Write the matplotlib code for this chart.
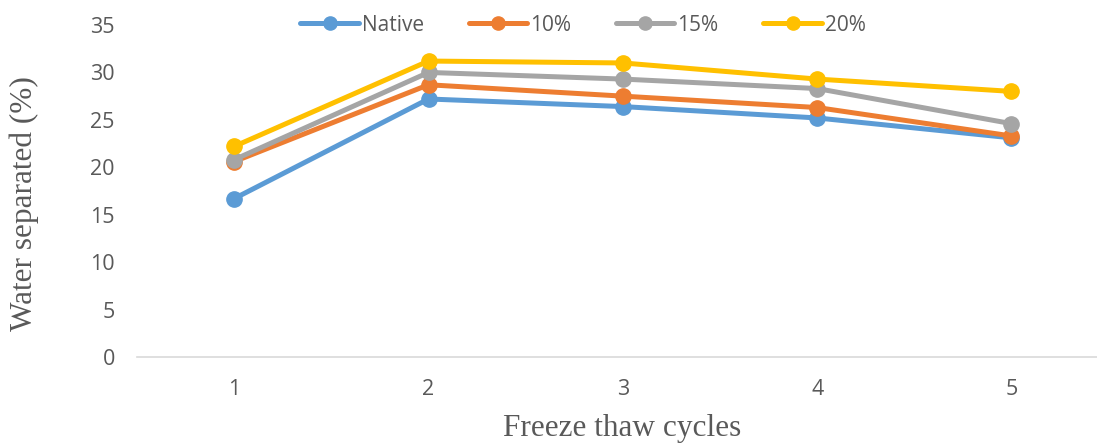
import matplotlib
matplotlib.use("Agg")
import matplotlib.pyplot as plt

# freeze-thaw stability: water separated after each cycle
cycles = [1, 2, 3, 4, 5]
native = [16.7, 27.2, 26.4, 25.2, 23.1]
pct10 = [20.6, 28.7, 27.5, 26.3, 23.3]
pct15 = [20.8, 30.0, 29.3, 28.3, 24.6]
pct20 = [22.2, 31.2, 31.0, 29.3, 28.0]

series = [("Native", native, "#5B9BD5"), ("10%", pct10, "#ED7D31"),
          ("15%", pct15, "#A5A5A5"), ("20%", pct20, "#FFC000")]

fig = plt.figure(figsize=(10.97, 4.45), dpi=100)
ax = fig.add_axes([0.1249, 0.1978, 0.8751, 0.746])

for nome, vals, cor in series:
    ax.plot(cycles, vals, color=cor, linewidth=3.6, marker="o",
            markersize=11, label=nome, solid_capstyle="round")

ax.set_xlim(0.5, 5.44)
ax.set_ylim(0, 35)
ax.set_yticks(range(0, 36, 5))
ax.set_xticks(cycles)

for s in ["top", "right", "left"]:
    ax.spines[s].set_visible(False)
ax.spines["bottom"].set_color("#D9D9D9")
ax.spines["bottom"].set_linewidth(1.2)
ax.tick_params(axis="both", length=0, labelsize=15.5, colors="#595959")
ax.tick_params(axis="y", pad=16)
ax.tick_params(axis="x", pad=16)
for t in ax.get_xticklabels() + ax.get_yticklabels():
    t.set_family("Open Sans")

# axis titles placed in figure coords
fig.text(622.5 / 1097, 1 - 436 / 445, "Freeze thaw cycles", family="Liberation Serif",
         fontsize=22.5, color="#595959", ha="center", va="baseline")
fig.text(24.5 / 1097, 1 - 203.5 / 445, "Water separated (%)", family="Liberation Serif",
         fontsize=22.5, color="#595959", ha="center", va="center", rotation=90)

leg = ax.legend(loc="center", bbox_to_anchor=(0.4646, 1.0), ncol=4, frameon=False,
                handlelength=2.8, columnspacing=2.15, handletextpad=0.15,
                prop={"family": "Open Sans", "size": 15})
for h in leg.get_lines():
    h.set_markersize(9.5)
for t in leg.get_texts():
    t.set_color("#595959")

fig.savefig("out.png", dpi=100)
